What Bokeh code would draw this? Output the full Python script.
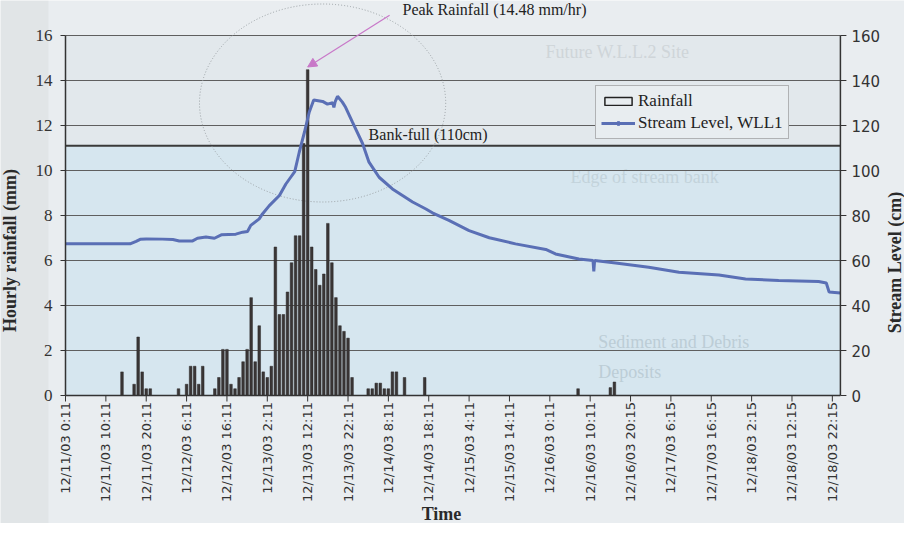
import math
from bokeh.plotting import figure
from bokeh.models import Range1d, Legend, LegendItem, Arrow, NormalHead
from bokeh.core.properties import value
from bokeh.embed import file_html
from bokeh.resources import INLINE

# ---------------- data ----------------
rain_hours = [14, 17, 18, 19, 20, 21, 28, 30, 31, 32, 33, 34, 37, 38, 39, 40, 41, 42,
              43, 44, 45, 46, 47, 48, 49, 50, 51, 52, 53, 54, 55, 56, 57, 58, 59, 60,
              61, 62, 63, 64, 65, 66, 67, 68, 69, 70, 71, 75, 76, 77, 78, 79, 80, 81,
              82, 84, 89, 127, 135, 136]
rain_mm = [1.05, 0.5, 2.6, 1.05, 0.3, 0.3, 0.3, 0.5, 1.3, 1.3, 0.5, 1.3, 0.3, 0.8, 2.05,
           2.05, 0.5, 0.3, 0.8, 1.5, 2.05, 4.35, 1.5, 3.1, 1.05, 0.8, 1.3, 6.6, 3.6, 3.6,
           4.6, 5.9, 7.1, 7.1, 11.2, 14.48, 6.6, 5.6, 4.9, 5.4, 7.65, 5.9, 4.35, 3.1,
           2.85, 2.55, 0.8, 0.3, 0.3, 0.55, 0.55, 0.3, 0.3, 1.05, 1.05, 0.8, 0.8, 0.3,
           0.35, 0.6]

level_hours = [0, 8, 16, 17.5, 18.5, 20, 24, 26.6, 28.2, 31.5, 32.7, 34.8, 36.9, 38.6,
               42.2, 43.9, 45.1, 45.9, 48, 48.8, 50.5, 53, 54.6, 55.8, 56.8, 57.9, 59.2,
               60.4, 61.5, 63.7, 64.9, 66.2, 66.5, 66.8, 67.4, 68.6, 69.4, 71.1, 73.6,
               75.2, 77.7, 81, 83.5, 86, 89.3, 90.9, 95, 100, 105, 111.5, 119, 121.4,
               127.2, 130.7, 130.9, 131.1, 136.3, 144.5, 152, 161.9, 168.5, 176.7,
               186.6, 188.5, 189.2, 192]
level_cm = [67.4, 67.4, 67.4, 68.5, 69.4, 69.6, 69.5, 69.3, 68.7, 68.7, 69.9, 70.4, 69.9,
            71.4, 71.7, 72.6, 72.9, 75.6, 78.5, 80.7, 84.4, 88.9, 94.0, 97.0, 99.5, 108.0,
            117.0, 126.0, 131.3, 130.7, 129.5, 130.1, 128.0, 130.5, 133.0, 130.4, 128.1,
            121.5, 112.0, 103.7, 97.0, 91.8, 88.9, 86.0, 82.9, 81.2, 77.8, 73.3, 70.1,
            67.4, 64.9, 62.9, 60.7, 60.0, 55.2, 60.0, 58.9, 57.0, 54.8, 53.6, 51.8, 51.1,
            50.7, 50.0, 46.0, 45.6]

tick_hours = [0, 10, 20, 30, 40, 50, 60, 70, 80, 90, 100, 110, 120, 130, 140, 150, 160,
              170, 180, 190]
tick_labels = ["12/11/03 0:11", "12/11/03 10:11", "12/11/03 20:11", "12/12/03 6:11",
               "12/12/03 16:11", "12/13/03 2:11", "12/13/03 12:11", "12/13/03 22:11",
               "12/14/03 8:11", "12/14/03 18:11", "12/15/03 4:11", "12/15/03 14:11",
               "12/16/03 0:11", "12/16/03 10:11", "12/16/03 20:15", "12/17/03 6:15",
               "12/17/03 16:15", "12/18/03 2:15", "12/18/03 12:15", "12/18/03 22:15"]

rain_ticks = [0, 2, 4, 6, 8, 10, 12, 14, 16]
rain_tick_labels = [str(t) for t in rain_ticks]
level_ticks = [0, 20, 40, 60, 80, 100, 120, 140, 160]
level_tick_labels = [str(t) for t in level_ticks]
bankfull_cm = 111
peak_mm = 14.48
peak_hour = 60
x_end = 192

SERIF = "Liberation Serif"
SANS = "DejaVu Sans"
PAGE = "#e9edf0"
DARK = "#2a2a2a"
AXC = "#333333"

W, H = 904, 523
X0 = 65        # pixel position of hour 0
Y0 = 395       # pixel position (from top) of 0 mm
PXH = 4.036    # pixels per hour
PXMM = 22.5    # pixels per mm


def hx(px):
    """pixel column -> hours"""
    return (px - X0) / PXH


def my(py):
    """pixel row (from top) -> mm"""
    return (Y0 - py) / PXMM


p = figure(width=W, height=H, output_backend="svg", toolbar_location=None,
           x_range=Range1d(hx(0), hx(W)), y_range=Range1d(my(H), my(0)),
           min_border_left=0, min_border_right=0, min_border_top=0,
           min_border_bottom=0)
p.background_fill_color = PAGE
p.border_fill_color = PAGE
p.outline_line_color = None
p.extra_y_ranges = {"cm": Range1d(my(H) * 10, my(0) * 10)}
p.xaxis.visible = False
p.yaxis.visible = False
p.xgrid.visible = False
p.ygrid.visible = False

# slightly darker scanned strip at the far left
p.quad(left=hx(0), right=hx(48), bottom=my(H), top=my(0), fill_color="#e1e5e7",
       line_color=None)

# plot area fills
p.quad(left=0, right=x_end, bottom=bankfull_cm / 10, top=16, fill_color="#e2e8ec",
       line_color=None)
p.quad(left=0, right=x_end, bottom=0, top=bankfull_cm / 10, fill_color="#d6e6ef",
       line_color=None)

# faint background photo texts
ghost = dict(text_font=value(SERIF), text_font_size="18px", text_baseline="middle",
             text_align="left")
p.text(x=[118.9], y=[15.26], text=["Future W.L.L.2 Site"], text_color="#cfd5d9", **ghost)
p.text(x=[125.1], y=[9.7], text=["Edge of stream bank"], text_color="#c3d3db", **ghost)
p.text(x=[132.0], y=[2.37], text=["Sediment and Debris"], text_color="#bccdd6", **ghost)
p.text(x=[132.0], y=[1.04], text=["Deposits"], text_color="#bccdd6", **ghost)

# horizontal grid lines, ending at the right axis
n = len(rain_ticks) - 1
p.segment(x0=[0] * n, x1=[x_end] * n, y0=rain_ticks[1:], y1=rain_ticks[1:],
          line_color="#5f5f5f", line_width=1)

# bank-full line
p.segment(x0=[0], x1=[x_end], y0=[bankfull_cm], y1=[bankfull_cm], y_range_name="cm",
          line_color="#3a3a3a", line_width=2)

# dotted ellipse
p.ellipse(x=[63.7], y=[13.0], width=[61.0], height=[8.8], fill_color=None,
          line_color="#9aa0a4", line_dash="1 2", line_width=1)

# rainfall bars
p.vbar(x=rain_hours, top=rain_mm, width=0.65, fill_color="#3a3636",
       line_color="#2b2727", line_width=0.5)

# stream level
lvl = p.line(x=level_hours, y=level_cm, y_range_name="cm", line_color="#5a6fb5",
             line_width=3)
lvl_marker = p.scatter(x=[-500], y=[-500], y_range_name="cm", size=4, marker="circle",
                       fill_color="#5a6fb5", line_color="#5a6fb5")
rain_dummy = p.quad(left=[-500], right=[-499], bottom=[-50], top=[-49], fill_color=None,
                    line_color="#222222", line_width=1.5)

# axis lines
p.segment(x0=[0, x_end, 0], x1=[0, x_end, x_end], y0=[0, 0, 0], y1=[16, 16, 0],
          line_color=AXC, line_width=1.5)

# left axis: ticks, labels, title
p.segment(x0=[0] * len(rain_ticks), x1=[-5 / PXH] * len(rain_ticks), y0=rain_ticks,
          y1=rain_ticks, line_color=AXC, line_width=1)
p.text(x=[-13 / PXH] * len(rain_ticks), y=rain_ticks, text=rain_tick_labels,
       text_align="right", text_baseline="middle", text_font=value(SERIF),
       text_font_size="17px", text_color=AXC)
p.text(x=[hx(9)], y=[my(250)], text=["Hourly rainfall (mm)"], angle=math.pi / 2,
       text_font=value(SERIF), text_font_style="bold", text_font_size="18px",
       text_color=DARK, text_align="center", text_baseline="middle")

# bottom axis: ticks, rotated labels, title
p.segment(x0=tick_hours, x1=tick_hours, y0=[0] * len(tick_hours),
          y1=[-6 / PXMM] * len(tick_hours), line_color=AXC, line_width=1)
p.text(x=tick_hours, y=[-6.5 / PXMM] * len(tick_hours), text=tick_labels,
       angle=math.pi / 2, text_align="right", text_baseline="middle",
       text_font=value(SANS), text_font_size="13px", text_color=AXC)
p.text(x=[hx(441)], y=[my(513)], text=["Time"], text_font=value(SERIF),
       text_font_style="bold", text_font_size="18px", text_color=DARK,
       text_align="center", text_baseline="middle")

# right axis: ticks, labels, title
p.segment(x0=[x_end] * len(level_ticks), x1=[x_end + 6 / PXH] * len(level_ticks),
          y0=level_ticks, y1=level_ticks, y_range_name="cm", line_color=AXC,
          line_width=1)
p.text(x=[x_end + 11 / PXH] * len(level_ticks), y=level_ticks, text=level_tick_labels,
       y_range_name="cm", text_align="left", text_baseline="middle",
       text_font=value(SANS), text_font_size="15px", text_color=AXC)
p.text(x=[hx(894)], y=[my(262)], text=["Stream Level (cm)"], angle=math.pi / 2,
       text_font=value(SERIF), text_font_style="bold", text_font_size="18px",
       text_color=DARK, text_align="center", text_baseline="middle")

# annotations
p.text(x=[83.5], y=[17.16], text=["Peak Rainfall (14.48 mm/hr)"],
       text_font=value(SERIF), text_font_size="16px", text_color="#222222",
       text_baseline="middle", text_align="left")
p.text(x=[75.1], y=[11.61], text=["Bank-full (110cm)"],
       text_font=value(SERIF), text_font_size="16px", text_color="#222222",
       text_baseline="middle", text_align="left")
p.add_layout(Arrow(end=NormalHead(size=9, fill_color="#c878c8", line_color="#c878c8"),
                   x_start=80.3, y_start=16.9, x_end=peak_hour, y_end=peak_mm + 0.12,
                   line_color="#c878c8", line_width=1.2))

# legend
legend = Legend(items=[LegendItem(label="Rainfall", renderers=[rain_dummy]),
                       LegendItem(label="Stream Level, WLL1", renderers=[lvl, lvl_marker])],
                location=(595, H - 139))
legend.label_text_font = SERIF
legend.label_text_font_size = "17px"
legend.label_text_color = "#222222"
legend.border_line_color = "#777777"
legend.border_line_width = 1
legend.background_fill_color = "#e8edf0"
legend.background_fill_alpha = 1
legend.glyph_width = 34
legend.glyph_height = 10
legend.label_standoff = 3
legend.spacing = 2
legend.padding = 5
legend.margin = 0
p.add_layout(legend)

open("out.html", "w").write(file_html(p, INLINE))
